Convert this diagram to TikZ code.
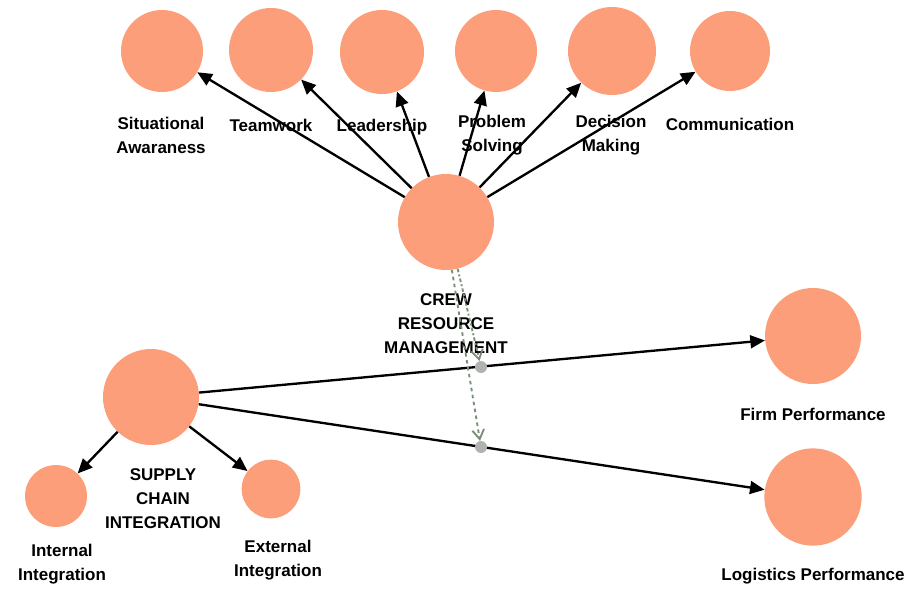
\documentclass[tikz,border=0pt]{standalone}
\usepackage{fontspec}
\setmainfont{Liberation Sans}
\usetikzlibrary{arrows.meta}
\definecolor{blob}{RGB}{252,158,122}
\definecolor{modline}{RGB}{122,142,120}

\begin{document}
\begin{tikzpicture}[x=0.03cm, y=-0.03cm,
    construct/.style={circle, fill=blob, inner sep=0pt},
    lbl/.style={font=\fontsize{14.5}{20.5}\selectfont\bfseries, align=center},
    link/.style={line width=2pt, -{Triangle[length=12.5pt, width=11pt]}},
    dot/.style={circle, fill=gray!60, inner sep=0pt, minimum size=0.36cm},
    modpath/.style={modline, line width=1.6pt, -{Straight Barb[length=8pt, width=10pt]}}]
  \useasboundingbox (0,0) rectangle (908,589);

  % dimensions
  \node[construct, minimum size=2.46cm] (sa) at (162,51) {};
  \node[construct, minimum size=2.52cm] (tw) at (271,50) {};
  \node[construct, minimum size=2.52cm] (ld) at (382,52) {};
  \node[construct, minimum size=2.46cm] (ps) at (496,51) {};
  \node[construct, minimum size=2.64cm] (dm) at (612,51) {};
  \node[construct, minimum size=2.40cm] (cm) at (730,51) {};

  \node[construct, minimum size=2.88cm] (crm) at (446,222) {};
  \node[construct, minimum size=2.88cm] (sci) at (151,397) {};
  \node[construct, minimum size=1.86cm] (ii) at (56,496) {};
  \node[construct, minimum size=1.76cm] (ei) at (271,489) {};
  \node[construct, minimum size=2.88cm] (fp) at (813,336) {};
  \node[construct, minimum size=2.92cm] (lp) at (813,497) {};

  % labels
  \node[lbl] (sa-l) at (161,135) {Situational\\Awaraness};
  \node[lbl] (tw-l) at (271,125) {Teamwork};
  \node[lbl] (ld-l) at (382,127) {Leadership};
  \node[lbl] (ps-l) at (492,135) {Problem\\Solving};
  \node[lbl] (dm-l) at (611,135) {Decision\\Making};
  \node[lbl] (cm-l) at (730,124) {Communication};
  \node[lbl] (crm-l) at (446,324) {CREW\\RESOURCE\\MANAGEMENT};
  \node[lbl] (sci-l) at (163,499) {SUPPLY\\CHAIN\\INTEGRATION};
  \node[lbl] (ii-l) at (62,564) {Internal\\Integration};
  \node[lbl] (ei-l) at (278,560) {External\\Integration};
  \node[lbl] (fp-l) at (813,414) {Firm Performance};
  \node[lbl] (lp-l) at (813,576) {Logistics Performance};

  % paths
  \foreach \t in {sa,tw,ld,ps,dm,cm}
    \draw[link] (crm) -- (\t);
  \draw[link] (sci) -- (ii);
  \draw[link] (sci) -- (ei);
  \draw[link] (sci) -- (fp);
  \draw[link] (sci) -- (lp);

  % moderation
  \node[dot] (m1) at (481,367) {};
  \node[dot] (m2) at (481,447) {};
  \draw[modpath, dashed] (crm.-83) -- (m2);
  \draw[modpath, dash dot] (crm.-76) -- (m1);
\end{tikzpicture}
\end{document}
